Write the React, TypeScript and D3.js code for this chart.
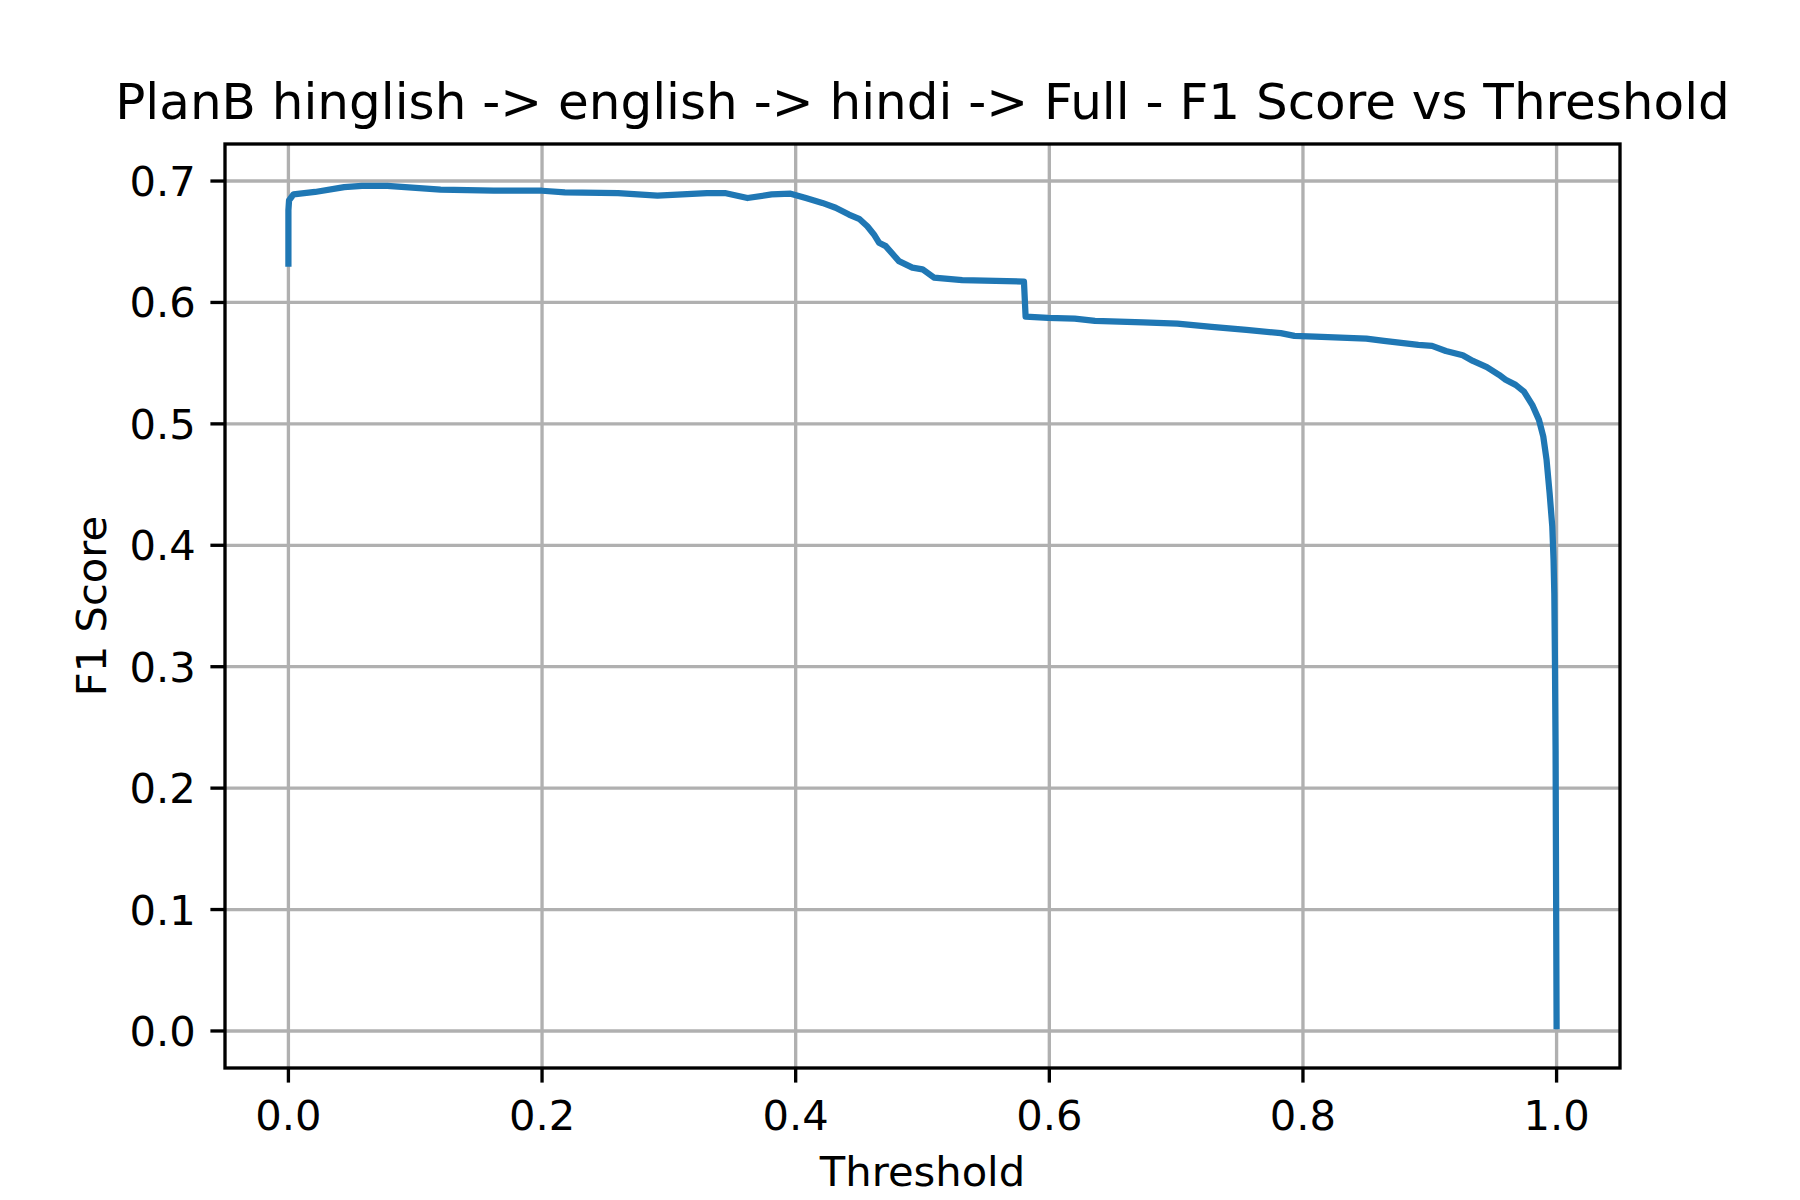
import React, { useEffect, useRef } from "react";
import * as d3 from "d3";

// threshold vs F1 score
const thresholds = [
  0.0, 0.0, 0.0005, 0.004, 0.021, 0.044, 0.058, 0.078, 0.12, 0.162, 0.2, 0.218,
  0.26, 0.291, 0.33, 0.345, 0.362, 0.381, 0.396, 0.408, 0.421, 0.4315, 0.442,
  0.45, 0.4565, 0.4617, 0.4657, 0.471, 0.4814, 0.492, 0.5, 0.509, 0.5313,
  0.5576, 0.58, 0.5813, 0.599, 0.62, 0.636, 0.674, 0.701, 0.728, 0.7554,
  0.7825, 0.7933, 0.8096, 0.85, 0.8639, 0.891, 0.9018, 0.9127, 0.926, 0.934,
  0.945, 0.9546, 0.9598, 0.9677, 0.9743, 0.9808, 0.9861, 0.9895, 0.9921,
  0.9945, 0.9966, 0.9976, 0.9982, 0.9987, 0.9992, 1.0,
];
const f1Scores = [
  0.632, 0.676, 0.684, 0.689, 0.691, 0.695, 0.696, 0.696, 0.693, 0.692, 0.692,
  0.6906, 0.69, 0.688, 0.69, 0.69, 0.686, 0.689, 0.6896, 0.686, 0.682, 0.678,
  0.6724, 0.6689, 0.6628, 0.656, 0.6492, 0.6464, 0.634, 0.6287, 0.6273,
  0.6205, 0.6183, 0.6178, 0.6172, 0.5883, 0.5872, 0.5866, 0.5848, 0.5835,
  0.5826, 0.5799, 0.5774, 0.5747, 0.5725, 0.5719, 0.5702, 0.5683, 0.565,
  0.5642, 0.56, 0.5565, 0.5518, 0.5468, 0.5404, 0.5363, 0.5321, 0.5266,
  0.5157, 0.5033, 0.4896, 0.4703, 0.4429, 0.4154, 0.388, 0.3604, 0.3055,
  0.2313, 0.004,
];
const xTicks = [0.0, 0.2, 0.4, 0.6, 0.8, 1.0];
const yTicks = [0.0, 0.1, 0.2, 0.3, 0.4, 0.5, 0.6, 0.7];

const title = "PlanB hinglish -> english -> hindi -> Full - F1 Score vs Threshold";

export default function App() {
  const ref = useRef<SVGSVGElement>(null);

  useEffect(() => {
    if (!ref.current) return;
    const svg = d3.select(ref.current);
    svg.selectAll("*").remove();

    const W = 1800;
    const H = 1200;
    // matplotlib default subplot box
    const left = 225;
    const right = 1620;
    const top = 144;
    const bottom = 1068;
    const font = "DejaVu Sans, Liberation Sans, sans-serif";
    const lw = 3.33;

    svg.append("rect").attr("width", W).attr("height", H).attr("fill", "#fff");

    const x = d3.scaleLinear().domain([-0.05, 1.05]).range([left, right]);
    const y = d3.scaleLinear().domain([-0.0305, 0.7305]).range([bottom, top]);

    // grid
    const grid = svg.append("g").attr("stroke", "#b0b0b0").attr("stroke-width", lw);
    grid
      .selectAll("line.gx")
      .data(xTicks)
      .enter()
      .append("line")
      .attr("x1", (d) => x(d))
      .attr("x2", (d) => x(d))
      .attr("y1", top)
      .attr("y2", bottom);
    grid
      .selectAll("line.gy")
      .data(yTicks)
      .enter()
      .append("line")
      .attr("x1", left)
      .attr("x2", right)
      .attr("y1", (d) => y(d))
      .attr("y2", (d) => y(d));

    // curve
    const pts = thresholds.map((t, i) => [t, f1Scores[i]] as [number, number]);
    const line = d3
      .line<[number, number]>()
      .x((d) => x(d[0]))
      .y((d) => y(d[1]));
    svg
      .append("path")
      .datum(pts)
      .attr("fill", "none")
      .attr("stroke", "#1f77b4")
      .attr("stroke-width", 6.25)
      .attr("stroke-linejoin", "round")
      .attr("stroke-linecap", "square")
      .attr("d", line);

    // spines
    svg
      .append("rect")
      .attr("x", left)
      .attr("y", top)
      .attr("width", right - left)
      .attr("height", bottom - top)
      .attr("fill", "none")
      .attr("stroke", "#000")
      .attr("stroke-width", lw);

    // x ticks
    const xt = svg.append("g");
    xTicks.forEach((t) => {
      xt.append("line")
        .attr("x1", x(t))
        .attr("x2", x(t))
        .attr("y1", bottom)
        .attr("y2", bottom + 14.6)
        .attr("stroke", "#000")
        .attr("stroke-width", lw);
      xt.append("text")
        .attr("x", x(t))
        .attr("y", 1130)
        .attr("text-anchor", "middle")
        .attr("font-family", font)
        .attr("font-size", 41.67)
        .attr("fill", "#000")
        .text(d3.format(".1f")(t));
    });

    // y ticks
    const yt = svg.append("g");
    yTicks.forEach((t) => {
      yt.append("line")
        .attr("x1", left - 14.6)
        .attr("x2", left)
        .attr("y1", y(t))
        .attr("y2", y(t))
        .attr("stroke", "#000")
        .attr("stroke-width", lw);
      yt.append("text")
        .attr("x", left - 29.2)
        .attr("y", y(t) + 15)
        .attr("text-anchor", "end")
        .attr("font-family", font)
        .attr("font-size", 41.67)
        .attr("fill", "#000")
        .text(d3.format(".1f")(t));
    });

    // labels
    svg
      .append("text")
      .attr("x", (left + right) / 2)
      .attr("y", 1186)
      .attr("text-anchor", "middle")
      .attr("font-family", font)
      .attr("font-size", 41.67)
      .attr("fill", "#000")
      .text("Threshold");

    svg
      .append("text")
      .attr("transform", `translate(106,${(top + bottom) / 2}) rotate(-90)`)
      .attr("text-anchor", "middle")
      .attr("font-family", font)
      .attr("font-size", 41.67)
      .attr("fill", "#000")
      .text("F1 Score");

    svg
      .append("text")
      .attr("x", (left + right) / 2)
      .attr("y", 119)
      .attr("text-anchor", "middle")
      .attr("font-family", font)
      .attr("font-size", 50)
      .attr("fill", "#000")
      .text(title);
  }, []);

  return (
    <svg
      ref={ref}
      width={1800}
      height={1200}
      style={{ position: "absolute", left: 0, top: 0, display: "block" }}
    />
  );
}
